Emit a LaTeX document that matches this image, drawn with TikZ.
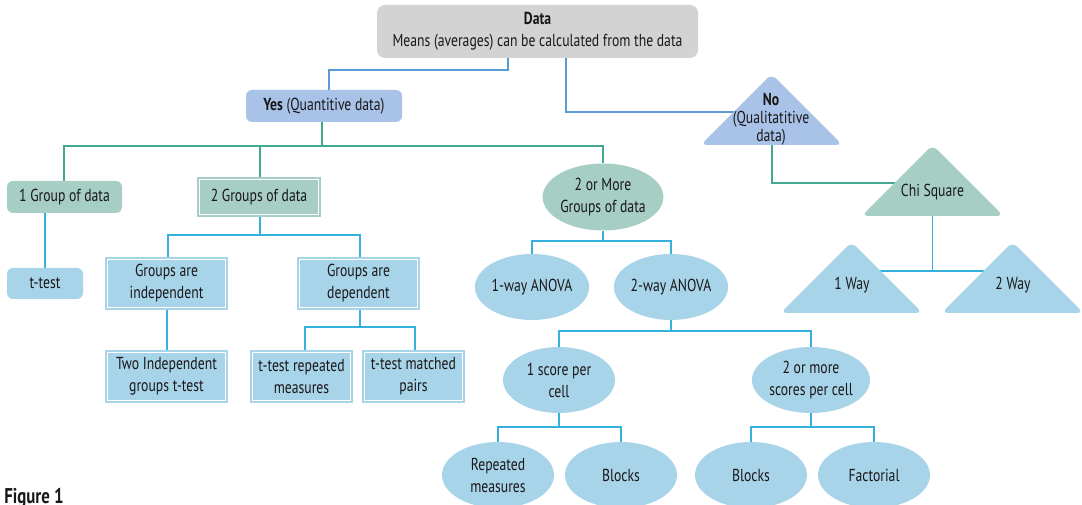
\documentclass[tikz,border=0pt]{standalone}
\usepackage{fontspec}
\setmainfont{PT Sans}[FakeStretch=0.79]
\usetikzlibrary{shapes.geometric,calc}
\pgfdeclarelayer{bg}
\pgfsetlayers{bg,main}
\definecolor{cgray}{HTML}{D3D3D3}
\definecolor{cyes}{HTML}{A9C2E8}
\definecolor{cteal}{HTML}{A6CEC4}
\definecolor{clblue}{HTML}{A8D4EA}
\definecolor{cdataline}{HTML}{5A9AD6}
\definecolor{cgreen}{HTML}{42A890}
\definecolor{ccyan}{HTML}{33B0DC}
\definecolor{ctext}{HTML}{1A1718}
\def\pxu{0.75pt}
\newcommand\mytri[3]{\fill[#3, rounded corners=5pt] (#1-71,#2+71) -- (#1,#2) -- (#1+71,#2+71) -- cycle;}
\begin{document}
\begin{tikzpicture}[x=0.75pt,y=-0.75pt,
  base/.style={inner sep=0pt, align=center, text=ctext, font=\fontsize{13}{16.5}\selectfont},
  rbox/.style={base, rectangle, rounded corners=4.5pt},
  dbox/.style={base, rectangle, fill=#1, draw=#1, line width=1.5pt, double=white, double distance=0.75pt},
  ell/.style={base, ellipse, fill=#1, minimum width=112*\pxu, minimum height=66*\pxu},
  tritext/.style={base, font=\fontsize{13}{13.5}\selectfont},
  cdata/.style={draw=cdataline, line width=1.1pt},
  cgr/.style={draw=cgreen, line width=1.1pt},
  ccy/.style={draw=ccyan, line width=1.1pt}
]
\useasboundingbox (0,0) rectangle (1082,505);
\clip (0,0) rectangle (1082,505);

% boxes
\node[rbox, fill=cgray, rounded corners=6pt, minimum width=321*\pxu, minimum height=53*\pxu] (data) at (537.5,31.5) {\textbf{Data}\\Means (averages) can be calculated from the data};
\node[rbox, fill=cyes, minimum width=156*\pxu, minimum height=32*\pxu] (yes) at (324,106) {\textbf{Yes} (Quantitive data)};
\node[rbox, fill=cteal, minimum width=115*\pxu, minimum height=32*\pxu] (g1) at (64.5,197) {1 Group of data};
\node[dbox=cteal, minimum width=119*\pxu, minimum height=35*\pxu] (g2) at (259,197) {2 Groups of data};
\node[rbox, fill=clblue, minimum width=76*\pxu, minimum height=31*\pxu] (ttest) at (45,283.5) {t-test};
\node[dbox=clblue, minimum width=118*\pxu, minimum height=48*\pxu] (indep) at (166.5,283.5) {Groups are\\independent};
\node[dbox=clblue, minimum width=118*\pxu, minimum height=48*\pxu] (dep) at (358.5,283.5) {Groups are\\dependent};
\node[dbox=clblue, minimum width=118*\pxu, minimum height=48*\pxu] (twoind) at (166.5,376.5) {Two Independent\\groups t-test};
\node[dbox=clblue, minimum width=98*\pxu, minimum height=48*\pxu] (trep) at (301.5,376.5) {t-test repeated\\measures};
\node[dbox=clblue, minimum width=98*\pxu, minimum height=48*\pxu] (tmat) at (413.5,376.5) {t-test matched\\pairs};

% ellipses
\node[ell=cteal, minimum height=67*\pxu] (more) at (603,197) {2 or More\\Groups of data};
\node[ell=clblue] (a1) at (532,287) {1-way ANOVA};
\node[ell=clblue] (a2) at (671,287) {2-way ANOVA};
\node[ell=clblue] (s1) at (559,380) {1 score per\\cell};
\node[ell=clblue] (s2) at (811,380) {2 or more\\scores per cell};
\node[ell=clblue] (rep) at (498,475) {Repeated\\measures};
\node[ell=clblue] (bl1) at (621,475) {Blocks};
\node[ell=clblue] (bl2) at (751,475) {Blocks};
\node[ell=clblue] (fac) at (874,475) {Factorial};

% triangles
\mytri{771.5}{74}{cyes}
\mytri{932.5}{145}{cteal}
\mytri{851.5}{242}{clblue}
\mytri{1012.5}{242}{clblue}
\node[tritext] (no) at (771,119) {\textbf{No}\\(Qualitatitive\\data)};
\node[tritext] (chi) at (932.5,192) {Chi Square};
\node[tritext] (w1) at (852,285) {1 Way};
\node[tritext] (w2) at (1013,285) {2 Way};

\node[anchor=base west, inner sep=0pt, text=ctext, font=\bfseries\fontsize{16}{16}\selectfont] (fig) at (4,504) {Figure 1};

% junction coordinates
\coordinate (noL) at (746,112);
\coordinate (noB) at (772,140);
\coordinate (chiL) at (905,183);
\coordinate (chiB) at (932.5,210);
\coordinate (w1R) at (870,271);
\coordinate (w2L) at (995,271);
\coordinate (jy) at (322,146);
\coordinate (j2) at (260,235);
\coordinate (j3) at (360,327);
\coordinate (j4) at (603,241);
\coordinate (j5) at (671,331);
\coordinate (j6) at (559,427);
\coordinate (j7) at (811,427);
\coordinate (j8) at (932.5,271);

\begin{pgfonlayer}{bg}
\draw[cdata] (data.south -| 508,0) |- (329,70) -- (yes.north -| 329,0);
\draw[cdata] (data.south -| 566,0) |- (noL);
\draw[cgr] (yes.south -| jy) -- (jy);
\draw[cgr] (g1.north -| 64,0) |- (jy) -| (more.north);
\draw[cgr] (g2.north -| 260,0) -- (jy -| 260,0);
\draw[ccy] (g1.south -| ttest.north) -- (ttest.north);
\draw[ccy] (g2.south -| j2) -- (j2);
\draw[ccy] (indep.north -| 168,0) |- (j2) -| (dep.north -| 360,0);
\draw[ccy] (indep.south -| 167,0) -- (twoind.north -| 167,0);
\draw[ccy] (dep.south -| j3) -- (j3);
\draw[ccy] (trep.north -| 305,0) |- (j3) -| (tmat.north -| 415,0);
\draw[ccy] (more.south) -- (j4);
\draw[ccy] (a1.north) |- (j4) -| (a2.north);
\draw[ccy] (a2.south) -- (j5);
\draw[ccy] (s1.north) |- (j5) -| (s2.north);
\draw[ccy] (s1.south) -- (j6);
\draw[ccy] (rep.north) |- (j6) -| (bl1.north);
\draw[ccy] (s2.south) -- (j7);
\draw[ccy] (bl2.north) |- (j7) -| (fac.north);
\draw[cgr] (noB) |- (chiL);
\draw[ccy] (chiB) -- (j8);
\draw[ccy] (w1R) -- (w2L);
\end{pgfonlayer}
\end{tikzpicture}
\end{document}
